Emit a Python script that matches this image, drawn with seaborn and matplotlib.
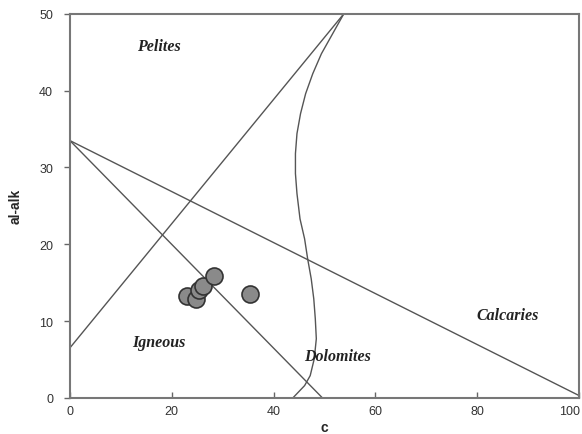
import matplotlib
matplotlib.use("Agg")
import matplotlib.pyplot as plt
import matplotlib.transforms as mtransforms
import seaborn as sns
import pandas as pd

# Sample compositions (c, al-alk)
sample_c = [23.0, 24.7, 25.4, 26.1, 28.3, 35.3]
sample_al_alk = [13.3, 12.9, 14.1, 14.6, 15.9, 13.5]

# Straight field boundaries: (c values, al-alk values)
boundary_a = ([0, 53.8], [6.5, 50])
boundary_b = ([0, 100], [33.5, 0.3])
boundary_c = ([0, 49.6], [33.5, 0])

# Curved Dolomites boundary
curve_c = [53.8, 51.6, 49.4, 47.7, 46.3, 45.3, 44.6, 44.3, 44.3, 44.6, 45.2,
           46.1, 46.7, 47.4, 47.9, 48.2, 48.4, 48.0, 47.2, 46.1, 43.8]
curve_al_alk = [50.0, 47.4, 44.8, 42.2, 39.6, 37.0, 34.4, 31.8, 29.2, 26.6, 23.3,
                20.7, 18.1, 15.5, 12.9, 10.3, 7.7, 5.1, 2.9, 1.6, 0.0]

# Field names and their label positions
field_names = ["Pelites", "Igneous", "Dolomites", "Calcaries"]
field_c = [17.5, 17.5, 52.5, 86.0]
field_al_alk = [45.8, 7.3, 5.4, 10.8]

sns.set_style("white")
plt.rcParams["font.family"] = ["Liberation Sans", "DejaVu Sans"]

fig = plt.figure(figsize=(5.82, 4.35), dpi=100)
ax = fig.add_axes([0.120, 0.083, 0.875, 0.883])

line_kw = dict(color="#555555", linewidth=1.0, ax=ax, legend=False,
               sort=False, estimator=None, errorbar=None)
for xs, ys in (boundary_a, boundary_b, boundary_c):
    sns.lineplot(data=pd.DataFrame({"c": xs, "al_alk": ys}),
                 x="c", y="al_alk", **line_kw)
sns.lineplot(data=pd.DataFrame({"c": curve_c, "al_alk": curve_al_alk}),
             x="c", y="al_alk", **line_kw)

sns.scatterplot(x=sample_c, y=sample_al_alk, s=150, color="#8a8a8a",
                edgecolor="#333333", linewidth=1.2, ax=ax, zorder=5)

for name, xc, yc in zip(field_names, field_c, field_al_alk):
    ax.text(xc, yc, name, ha="center", va="center", fontsize=11.5,
            fontfamily="Liberation Serif", fontweight="bold", fontstyle="italic",
            color="#222222")

ax.set_xlim(0, 100)
ax.set_ylim(0, 50)
ax.set_xticks([0, 20, 40, 60, 80, 100])
ax.set_yticks([0, 10, 20, 30, 40, 50])
ax.set_xlabel("c", fontsize=10, fontweight="bold", labelpad=2)
ax.set_ylabel("al-alk", fontsize=10, fontweight="bold", labelpad=12)

ax.tick_params(axis="x", direction="in", length=4, width=1, color="#666666",
               labelsize=9, pad=5, labelcolor="#333333")
ax.tick_params(axis="y", direction="out", length=4, width=1, color="#666666",
               labelsize=9, pad=8, labelcolor="#333333")
ax.tick_params(bottom=True, left=True)

# keep the last x tick label inside the figure edge
fig.canvas.draw()
last = ax.get_xticklabels()[-1]
last.set_transform(last.get_transform() +
                   mtransforms.ScaledTranslation(-10 / 100, 0, fig.dpi_scale_trans))

for sp in ax.spines.values():
    sp.set_color("#777777")
    sp.set_linewidth(1.5)

fig.savefig("out.png", dpi=100)
